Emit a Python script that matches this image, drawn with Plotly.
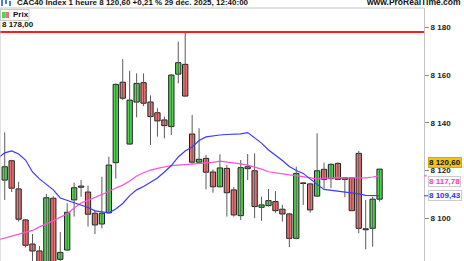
import plotly.graph_objects as go

# ---------------- data ----------------
OPEN = [8116.0, 8124.1, 8112.3, 8099.3, 8089.2, 8086.3, 8076.0, 8108.4, 8082.8, 8086.7,
        8107.7, 8113.0, 8111.0, 8102.1, 8097.6, 8102.3, 8123.3, 8157.0, 8131.1, 8148.7,
        8156.8, 8148.7, 8144.2, 8141.2, 8138.4, 8160.4, 8164.5, 8135.3, 8123.5, 8125.1,
        8119.4, 8113.2, 8120.9, 8111.9, 8101.1, 8121.6, 8119.9, 8104.6, 8105.3, 8107.0,
        8103.8, 8101.8, 8091.6, 8114.8, 8114.4, 8109.3, 8120.5, 8116.6, 8123.0, 8116.3,
        8116.9, 8127.2, 8095.2, 8095.8, 8108.0]
HIGH = [8136.0, 8124.5, 8115.3, 8099.6, 8093.4, 8088.4, 8110.2, 8109.3, 8094.3, 8106.3,
        8114.9, 8116.0, 8113.7, 8103.5, 8117.4, 8125.8, 8156.5, 8166.7, 8161.8, 8160.7,
        8160.7, 8151.5, 8146.1, 8142.6, 8160.5, 8174.0, 8178.0, 8143.3, 8137.7, 8126.5,
        8120.5, 8126.8, 8122.3, 8113.1, 8124.4, 8126.9, 8127.2, 8109.0, 8112.3, 8111.4,
        8105.6, 8102.3, 8121.6, 8115.0, 8114.9, 8135.6, 8123.3, 8123.0, 8123.4, 8117.2,
        8117.0, 8128.2, 8107.7, 8109.0, 8120.6]
LOW = [8107.7, 8111.0, 8098.6, 8087.7, 8080.0, 8074.0, 8072.0, 8074.0, 8079.0, 8086.3,
       8100.7, 8109.0, 8096.5, 8093.4, 8095.8, 8102.0, 8116.6, 8149.5, 8131.0, 8142.3,
       8147.0, 8130.7, 8134.2, 8133.5, 8134.9, 8156.5, 8151.0, 8122.7, 8123.0, 8112.1,
       8110.7, 8113.0, 8100.7, 8100.7, 8099.3, 8116.0, 8100.0, 8098.9, 8104.9, 8102.3,
       8098.6, 8087.9, 8091.2, 8105.6, 8102.3, 8109.0, 8112.6, 8112.6, 8116.0, 8108.8,
       8103.0, 8093.7, 8087.0, 8088.1, 8107.0]
CLOSE = [8121.6, 8112.6, 8099.6, 8088.7, 8086.3, 8078.0, 8108.6, 8078.0, 8085.7, 8102.5,
         8112.8, 8113.5, 8101.7, 8097.2, 8102.1, 8122.3, 8156.1, 8150.3, 8149.5, 8156.5,
         8148.2, 8142.6, 8140.8, 8138.8, 8160.0, 8165.2, 8151.2, 8123.5, 8124.7, 8119.3,
         8113.2, 8121.1, 8110.7, 8101.4, 8121.2, 8120.8, 8104.9, 8105.6, 8107.4, 8103.2,
         8101.8, 8091.6, 8118.8, 8114.6, 8103.5, 8119.9, 8116.3, 8122.6, 8116.3, 8117.0,
         8103.2, 8095.8, 8095.6, 8108.0, 8120.6]

# moving averages, first value belongs to the bar just left of the view
MA_SHORT = [8125.2, 8127.4, 8128.2, 8126.9, 8124.4, 8119.4, 8116.5, 8114.2, 8111.9, 8108.5,
            8107.5, 8106.6, 8105.6, 8104.5, 8103.1, 8102.6, 8102.3, 8103.9, 8106.2, 8109.5,
            8111.9, 8113.3, 8115.2, 8116.9, 8119.4, 8122.1, 8125.7, 8128.2, 8129.9, 8132.6,
            8134.1, 8134.6, 8134.9, 8135.1, 8135.2, 8135.4, 8135.9, 8133.6, 8131.5, 8128.6,
            8126.5, 8124.2, 8121.7, 8120.0, 8118.8, 8116.3, 8114.2, 8112.1, 8111.7, 8111.5,
            8111.2, 8110.7, 8110.2, 8109.6, 8109.5, 8109.43]
MA_LONG = [8090.9, 8091.7, 8092.4, 8093.0, 8093.8, 8094.9, 8096.4, 8097.6, 8098.9, 8100.5,
           8101.8, 8104.3, 8106.4, 8107.5, 8108.7, 8109.8, 8111.2, 8112.7, 8113.9, 8115.6,
           8117.7, 8119.1, 8120.2, 8120.9, 8121.5, 8122.1, 8122.3, 8122.5, 8122.7, 8122.7,
           8123.0, 8123.4, 8123.9, 8123.6, 8123.2, 8122.8, 8122.3, 8121.6, 8120.6, 8119.5,
           8119.0, 8118.6, 8118.2, 8117.9, 8117.5, 8116.9, 8116.5, 8116.7, 8117.0, 8117.0,
           8116.9, 8116.9, 8116.8, 8116.9, 8117.3, 8117.78]

HLINE_LEVEL = 8178.00
LAST_PRICE = 8120.60
TICK_VALUES = [8100, 8120, 8140, 8160, 8180]
TICK_LABELS = ["8 100", "8 120", "8 140", "8 160", "8 180"]
TITLE = "CAC40 Index 1 heure 8 120,60 +0,21 % 29 déc. 2025, 12:40:00"
SITE = "www.ProRealTime.com"
LEGEND_NAME = "Prix"

# ---------------- style ----------------
GREEN = "#4fd84f"
RED = "#ef7070"
FONT = "Liberation Sans"
W, H = 464, 261
ML, MR, MT, MB = 0, 40, 8, 0
PW, PH = W - ML - MR, H - MT - MB


def fmt(v):
    s = f"{v:,.2f}"
    return s.replace(",", " ").replace(".", ",")


def px(xp):
    return (xp - ML) / PW


def py(yp):
    return (H - MB - yp) / PH


n = len(OPEN)
X = list(range(n))
MA_X = list(range(-1, n))

wick_x, wick_y = [], []
for i in range(n):
    wick_x += [X[i], X[i], None]
    wick_y += [LOW[i], HIGH[i], None]

body_base = [min(o, c) for o, c in zip(OPEN, CLOSE)]
body_h = [abs(c - o) for o, c in zip(OPEN, CLOSE)]
body_col = [GREEN if c >= o else RED for o, c in zip(OPEN, CLOSE)]

fig = go.Figure()
fig.add_trace(go.Scatter(x=wick_x, y=wick_y, mode="lines",
                         line=dict(color="#5a5a5a", width=1), hoverinfo="skip"))
fig.add_trace(go.Bar(x=X, y=body_h, base=body_base, width=0.76,
                     marker=dict(color=body_col, line=dict(color="#1e1e1e", width=1))))
fig.add_trace(go.Scatter(x=MA_X, y=MA_LONG, mode="lines",
                         line=dict(color="#ff4fd8", width=1.2)))
fig.add_trace(go.Scatter(x=MA_X, y=MA_SHORT, mode="lines",
                         line=dict(color="#3a3aff", width=1.2)))

fig.add_hline(y=HLINE_LEVEL, line_color="#ff1a1a", line_width=2)

fig.update_layout(width=W, height=H, margin=dict(l=ML, r=MR, t=MT, b=MB),
                  paper_bgcolor="white", plot_bgcolor="white", showlegend=False,
                  barmode="overlay", font=dict(family=FONT))
fig.update_xaxes(range=[-0.68, 60.4], visible=False)
fig.update_yaxes(range=[8082.1, 8188.1], side="right", showgrid=False, zeroline=False,
                 showline=True, linecolor="#c4c4c4", linewidth=1,
                 ticks="outside", ticklen=4, tickcolor="#888888",
                 tickvals=TICK_VALUES, ticktext=TICK_LABELS,
                 tickfont=dict(family=FONT, size=8, color="#222222", weight="bold"))

# frame: left and top
fig.add_shape(type="line", xref="paper", yref="paper", x0=0, x1=0, y0=0, y1=1,
              line=dict(color="#c4c4c4", width=1))
fig.add_shape(type="line", xref="paper", yref="paper", x0=0, x1=1, y0=1, y1=1,
              line=dict(color="#c4c4c4", width=1))

# header
fig.add_annotation(xref="paper", yref="paper", x=px(15), y=1, yshift=-1,
                   xanchor="left", yanchor="bottom", showarrow=False, text="<b>" + TITLE + "</b>",
                   font=dict(size=8, color="#111111"))
fig.add_annotation(xref="paper", yref="paper", x=px(463), y=1, yshift=-1,
                   xanchor="right", yanchor="bottom", showarrow=False, text="<b>" + SITE + "</b>",
                   font=dict(size=8.5, color="#111111"))
for x0, x1, y0, y1 in [(1, 3, 0, 6), (5, 7, -1, 4), (9, 11, 1, 6)]:
    fig.add_shape(type="rect", xref="paper", yref="paper", x0=px(x0), x1=px(x1),
                  y0=py(y1), y1=py(y0), line=dict(width=0), fillcolor="#4a7fd8")

# legend box
fig.add_shape(type="rect", xref="paper", yref="paper", x0=px(0.5), x1=px(29), y0=py(20.5), y1=py(9.5),
              line=dict(color="#c8c8c8", width=1), fillcolor="white")
fig.add_shape(type="rect", xref="paper", yref="paper", x0=px(2), x1=px(5.5), y0=py(18), y1=py(12),
              line=dict(width=0), fillcolor=GREEN)
fig.add_shape(type="rect", xref="paper", yref="paper", x0=px(5.5), x1=px(9), y0=py(18), y1=py(12),
              line=dict(width=0), fillcolor=RED)
fig.add_annotation(xref="paper", yref="paper", x=px(11), y=py(15), xanchor="left", yanchor="middle",
                   showarrow=False, text="<b>" + LEGEND_NAME + "</b>", font=dict(size=8, color="#111111"))

# level label
fig.add_annotation(xref="paper", yref="y", x=px(0), y=HLINE_LEVEL, yshift=1,
                   xanchor="left", yanchor="bottom", showarrow=False, text="<b>" + fmt(HLINE_LEVEL) + "</b>",
                   font=dict(size=8, color="#111111"))

# right-side value labels
fig.add_shape(type="line", xref="paper", yref="y", x0=1, x1=1 + 3 / PW, y0=MA_LONG[-1], y1=MA_LONG[-1],
              line=dict(color="#ff4fd8", width=1))
fig.add_shape(type="line", xref="paper", yref="y", x0=1, x1=1 + 4 / PW, y0=MA_SHORT[-1], y1=MA_SHORT[-1],
              line=dict(color="#3a3aff", width=1))
labels = [
    (LAST_PRICE, 6.6, "#111111", "#f5c21b", "#d8a800"),
    (MA_LONG[-1], -6, "#ff33cc", "white", "#cccccc"),
    (MA_SHORT[-1], 0, "#2e2eff", "white", "#cccccc"),
]
for val, shift, fc, bg, bc in labels:
    fig.add_annotation(xref="paper", yref="y", x=1, xshift=4, y=val, yshift=shift,
                       xanchor="left", yanchor="middle", showarrow=False,
                       text="<b>" + fmt(val) + "</b>", font=dict(size=8, color=fc),
                       bgcolor=bg, bordercolor=bc, borderwidth=1, borderpad=0)

fig.write_html("out.html")
